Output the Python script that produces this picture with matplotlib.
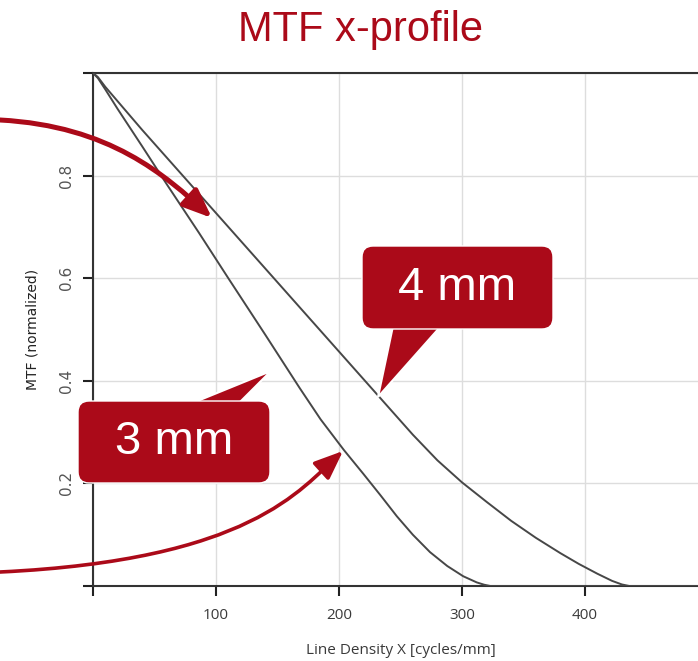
import matplotlib
matplotlib.use("Agg")
import matplotlib.pyplot as plt
from matplotlib.patches import FancyBboxPatch, Polygon, FancyArrowPatch
from matplotlib.path import Path
from matplotlib.transforms import Affine2D

# MTF profiles (x in cycles/mm, y normalized)
x_4mm = [0, 4, 10, 20, 40, 60, 90, 120, 150, 180, 200, 220, 240, 260, 280, 300, 320,
         340, 360, 380, 395, 410, 422, 430, 436, 500]
y_4mm = [1.0, 0.992, 0.973, 0.945, 0.889, 0.835, 0.754, 0.673, 0.592, 0.511, 0.457, 0.403,
         0.349, 0.295, 0.245, 0.202, 0.164, 0.127, 0.094, 0.064, 0.043, 0.024, 0.01, 0.003,
         0.0, 0.0]

x_3mm = [0, 4, 10, 20, 40, 60, 86, 110, 140, 168, 185, 204, 220, 234, 247, 260, 274,
         288, 301, 312, 318, 323, 500]
y_3mm = [1.0, 0.99, 0.968, 0.93, 0.857, 0.783, 0.689, 0.60, 0.49, 0.386, 0.325, 0.265,
         0.218, 0.176, 0.136, 0.100, 0.066, 0.039, 0.019, 0.007, 0.0025, 0.0, 0.0]

x_ticks = [0, 100, 200, 300, 400, 500]
x_ticklabels = ["", "100", "200", "300", "400", ""]
y_ticks = [0, 0.2, 0.4, 0.6, 0.8, 1.0]
y_ticklabels = ["", "0.2", "0.4", "0.6", "0.8", ""]

RED = "#ab0a19"
LINE = "#474747"
W, H = 698, 661

fig = plt.figure(figsize=(W / 100, H / 100), dpi=100)
ax = fig.add_axes([93 / W, 75 / H, 615 / W, 513 / H])

ax.plot(x_4mm, y_4mm, color=LINE, lw=1.4, zorder=3)
ax.plot(x_3mm, y_3mm, color=LINE, lw=1.4, zorder=3)

ax.set_xlim(0, 500)
ax.set_ylim(0, 1)
ax.set_xticks(x_ticks)
ax.set_xticklabels(x_ticklabels, fontsize=11, color="#3a3a3a", family="Open Sans")
ax.set_yticks(y_ticks)
ax.set_yticklabels(y_ticklabels, fontsize=11, color="#555555", rotation=90, va="center")
ax.tick_params(axis="x", length=7, width=1.5, color="#222222", pad=9)
ax.tick_params(axis="y", length=7, width=1.5, color="#222222", pad=7)
ax.grid(True, color="#dddddd", lw=1)
ax.set_axisbelow(True)
for side in ["left", "top", "bottom"]:
    ax.spines[side].set_color("#333333")
    ax.spines[side].set_linewidth(1.5)
ax.spines["right"].set_visible(False)

ax.set_xlabel("Line Density X [cycles/mm]", fontsize=11, color="#3a3a3a",
              family="Open Sans", labelpad=14)
ax.set_ylabel("MTF (normalized)", fontsize=10, color="#222222", labelpad=14)

fig.text(360 / W, 1 - 30 / H, "MTF x-profile", fontsize=30, color=RED,
         family="Liberation Sans", ha="center", va="center")

# everything below is placed in image pixels (origin top-left)
px = Affine2D().scale(1 / W, -1 / H).translate(0, 1) + fig.transFigure


def arrow(points, lw):
    codes = [Path.MOVETO, Path.CURVE4, Path.CURVE4, Path.CURVE4]
    fig.patches.append(FancyArrowPatch(path=Path(points, codes), transform=px,
                                       arrowstyle="-|>,head_length=1.6,head_width=0.65",
                                       mutation_scale=11, color=RED, lw=lw, zorder=4))


arrow([(0, 120), (110, 126), (165, 175), (212, 218)], 3.6)
arrow([(0, 572), (250, 560), (300, 490), (343, 451)], 2.6)


def callout(x0, y0, w, h, tail, label):
    fig.patches.append(Polygon(tail, closed=True, transform=px, facecolor=RED,
                               edgecolor="white", lw=1.5, zorder=5))
    fig.patches.append(FancyBboxPatch((x0, y0), w, h,
                                      boxstyle="round,pad=0,rounding_size=11",
                                      transform=px, facecolor=RED,
                                      edgecolor="white", lw=1.0, zorder=6))
    fig.text((x0 + w / 2) / W, 1 - (y0 + h / 2) / H, label, fontsize=34,
             color="white", family="Liberation Sans", ha="center",
             va="center", zorder=7)


callout(362, 246, 191, 83, [(393, 326), (441, 326), (378, 397)], "4 mm")
callout(78, 401, 192, 82, [(190, 404), (238, 404), (271, 371)], "3 mm")

fig.savefig("out.png", dpi=100)
